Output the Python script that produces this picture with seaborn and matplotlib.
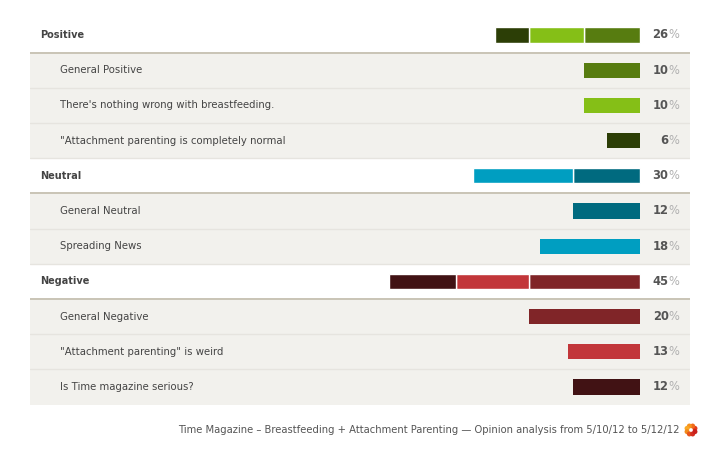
"""Opinion analysis table: Time Magazine breastfeeding cover."""

import matplotlib
matplotlib.use("Agg")

import matplotlib.pyplot as plt
import numpy as np
import pandas as pd
import seaborn as sns

# --- data -------------------------------------------------------------
groups = ["Positive", "Neutral", "Negative"]
group_totals = [26, 30, 45]

sub_labels = [
    ["General Positive", "There's nothing wrong with breastfeeding.",
     "\"Attachment parenting is completely normal"],
    ["General Neutral", "Spreading News"],
    ["General Negative", "\"Attachment parenting\" is weird",
     "Is Time magazine serious?"],
]
sub_values = [
    [10, 10, 6],
    [12, 18],
    [20, 13, 12],
]
sub_colors = [
    ["#577c10", "#85bf17", "#2c3e06"],
    ["#006a7f", "#009ec1"],
    ["#802528", "#c2363a", "#411214"],
]
footer = ("Time Magazine \u2013 Breastfeeding + Attachment Parenting \u2014 "
          "Opinion analysis from 5/10/12 to 5/12/12")

# --- layout -----------------------------------------------------------
W, H = 720, 457
TABLE_L, TABLE_R = 30, 690
TABLE_T, TABLE_B = 17.4, 404.6
BAR_END = 640          # pixel where bars end on the right
PX_PER_PCT = 5.57

sns.set_style("white")
plt.rcParams["font.family"] = ["DejaVu Sans"]

fig = plt.figure(figsize=(W / 100, H / 100), dpi=100)
ax = fig.add_axes([TABLE_L / W, 1 - TABLE_B / H,
                   (TABLE_R - TABLE_L) / W, (TABLE_B - TABLE_T) / H])

# build row table
rows = []
pos = 0
for g, total, labels, vals, cols in zip(groups, group_totals, sub_labels,
                                         sub_values, sub_colors):
    rows.append(dict(pos=pos, label=g, value=total, header=True))
    pos += 1
    for lab, v, c in zip(labels, vals, cols):
        rows.append(dict(pos=pos, label=lab, value=v, header=False, color=c))
        pos += 1
df = pd.DataFrame(rows)
n_rows = len(df)
subs = df[~df["header"]]

# row backgrounds and separators
for _, r in df.iterrows():
    y = r["pos"]
    face = "white" if r["header"] else "#f2f1ed"
    ax.axhspan(y - 0.5, y + 0.5, color=face, lw=0, zorder=0)
for _, r in df.iterrows():
    y = r["pos"] + 0.5
    if r["header"]:
        ax.axhline(y, color="#c9c4b6", lw=1.4, zorder=1)
    elif y < n_rows - 0.5:
        ax.axhline(y, color="#e6e4df", lw=1.0, zorder=1)

# sub-row bars
sns.barplot(data=subs, x="value", y="pos", hue="label",
            palette=dict(zip(subs["label"], subs["color"])),
            orient="h", native_scale=True, dodge=False, width=0.43,
            saturation=1, errorbar=None, legend=False, ax=ax, zorder=2,
            linewidth=0, edgecolor="none")

# stacked header bars
head_pos = df[df["header"]]["pos"].tolist()
for y, vals, cols in zip(head_pos, sub_values, sub_colors):
    left = np.concatenate([[0], np.cumsum(vals)[:-1]])
    ax.barh([y] * len(vals), vals, left=left, height=0.43, color=cols,
            edgecolor="white", linewidth=1.0, zorder=2)

# text
tr = ax.get_yaxis_transform()
span = TABLE_R - TABLE_L
for _, r in df.iterrows():
    y = r["pos"]
    if r["header"]:
        ax.text((40 - TABLE_L) / span, y, r["label"],
                transform=tr, ha="left", va="center", fontsize=7,
                fontweight="bold", color="#444444")
    else:
        ax.text((60 - TABLE_L) / span, y, r["label"],
                transform=tr, ha="left", va="center", fontsize=7.3,
                color="#444444")
    ax.text((668.5 - TABLE_L) / span, y, f"{int(r['value'])}", transform=tr,
            ha="right", va="center", fontsize=8.3, fontweight="bold",
            color="#555555")
    ax.text((668.5 - TABLE_L) / span, y, "%", transform=tr, ha="left",
            va="center", fontsize=8.3, color="#b0b0b0")

# axes scales: bars grow to the left from BAR_END
ax.set_xlim((BAR_END - TABLE_L) / PX_PER_PCT, (BAR_END - TABLE_R) / PX_PER_PCT)
ax.set_ylim(n_rows - 0.5, -0.5)
ax.set_axis_off()

# footer
fig.text(680 / W, 1 - 430 / H, footer, ha="right", va="center",
         fontsize=7.2, color="#555555")

# small flower logo
lax = fig.add_axes([682 / W, 1 - 439 / H, 18 / W, 18 / H])
ang = np.linspace(0, 2 * np.pi, 8, endpoint=False) + np.pi / 8
petal_cols = ["#e23b1b", "#f06a1a", "#f7931e", "#f9a825",
              "#f28a1c", "#e8541b", "#d42e20", "#c8201c"]
lax.scatter(np.cos(ang), np.sin(ang), s=13, c=petal_cols, lw=0)
lax.set_xlim(-2.1, 2.1)
lax.set_ylim(-2.1, 2.1)
lax.set_axis_off()

fig.savefig("out.png", dpi=100, facecolor="white")
